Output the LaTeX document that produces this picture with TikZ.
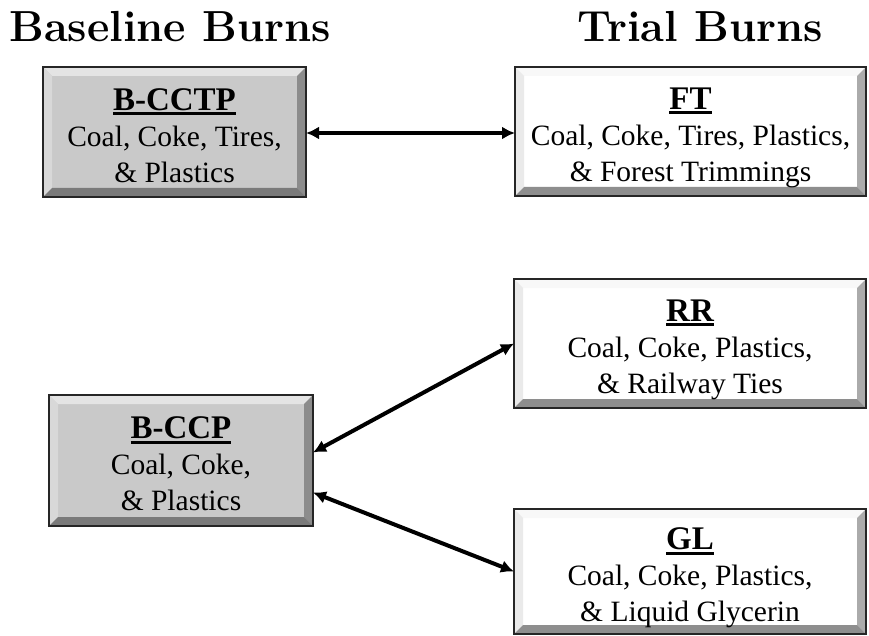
\documentclass[tikz,border=0pt]{standalone}
\usepackage{fontspec}
\setmainfont{Liberation Serif}
\newfontfamily\headfont{Latin Modern Roman}
\usetikzlibrary{arrows.meta}

\definecolor{grayface}{HTML}{C9C9C9}
\definecolor{graytop}{HTML}{E4E4E4}
\definecolor{grayleft}{HTML}{D8D8D8}
\definecolor{grayright}{HTML}{8C8C8C}
\definecolor{graybot}{HTML}{7A7A7A}
\definecolor{whitetop}{HTML}{F8F8F8}
\definecolor{whiteleft}{HTML}{EAEAEA}
\definecolor{whiteright}{HTML}{ABABAB}
\definecolor{whitebot}{HTML}{8E8E8E}

% bold heading with a thick underline
\newcommand\headline[1]{\setbox0=\hbox{\fontsize{33}{36}\selectfont\bfseries #1}\rlap{\rule[-5pt]{\wd0}{3pt}}\box0}

% bevel strips drawn inside a rectangular node: #1 top, #2 left, #3 right, #4 bottom
\newcommand\bevelstrips[4]{%
  \path (path picture bounding box.north west) coordinate (bvnw)
        (path picture bounding box.north east) coordinate (bvne)
        (path picture bounding box.south west) coordinate (bvsw)
        (path picture bounding box.south east) coordinate (bvse);
  \fill[#1] (bvnw) -- (bvne) -- ([shift={(-9pt,-9pt)}]bvne) -- ([shift={(9pt,-9pt)}]bvnw) -- cycle;
  \fill[#2] (bvnw) -- (bvsw) -- ([shift={(9pt,9pt)}]bvsw) -- ([shift={(9pt,-9pt)}]bvnw) -- cycle;
  \fill[#3] (bvne) -- (bvse) -- ([shift={(-9pt,9pt)}]bvse) -- ([shift={(-9pt,-9pt)}]bvne) -- cycle;
  \fill[#4] (bvsw) -- (bvse) -- ([shift={(-9pt,9pt)}]bvse) -- ([shift={(9pt,9pt)}]bvsw) -- cycle;
}

\tikzset{
  x=1pt, y=-1pt,
  burnbox/.style={rectangle, draw=black!85, line width=1.6pt, inner sep=0pt, outer sep=0pt},
  baselinebox/.style={burnbox, fill=grayface,
    path picture={\bevelstrips{graytop}{grayleft}{grayright}{graybot}}},
  trialbox/.style={burnbox, fill=white,
    path picture={\bevelstrips{whitetop}{whiteleft}{whiteright}{whitebot}}},
  boxtext/.style={anchor=north, align=center, inner sep=0pt,
    font=\fontsize{29.5}{36}\selectfont},
  title/.style={anchor=base west, inner sep=0pt,
    font=\headfont\bfseries\fontsize{43.5}{48}\selectfont},
  biarrow/.style={line width=4pt, {Latex[length=13pt,width=13pt]}-{Latex[length=13pt,width=13pt]}}
}

\begin{document}
\begin{tikzpicture}
\useasboundingbox (0,0) rectangle (869,636);

% column titles
\node[title] (ttlbase) at (9,42) {Baseline Burns};
\node[title] (ttltrial) at (577,42) {Trial Burns};

% baseline burns
\node[baselinebox, minimum width=263pt, minimum height=130pt] (bcctp) at (174.5,132) {};
\node[boxtext] (bcctptxt) at ([yshift=44pt]bcctp.center)
  {\headline{B-CCTP}\\Coal, Coke, Tires,\\\& Plastics};

\node[baselinebox, minimum width=264pt, minimum height=131pt] (bccp) at (181,460.5) {};
\node[boxtext] (bccptxt) at ([yshift=44pt]bccp.center)
  {\headline{B-CCP}\\Coal, Coke,\\\& Plastics};

% trial burns
\node[trialbox, minimum width=351pt, minimum height=129pt] (ft) at (690.5,131.5) {};
\node[boxtext] (fttxt) at ([yshift=44pt]ft.center)
  {\headline{FT}\\Coal, Coke, Tires, Plastics,\\\& Forest Trimmings};

\node[trialbox, minimum width=352pt, minimum height=129pt] (rr) at (690,343.5) {};
\node[boxtext] (rrtxt) at ([yshift=44pt]rr.center)
  {\headline{RR}\\Coal, Coke, Plastics,\\\& Railway Ties};

\node[trialbox, minimum width=352pt, minimum height=125pt] (gl) at (690,571.5) {};
\node[boxtext] (gltxt) at ([yshift=44pt]gl.center)
  {\headline{GL}\\Coal, Coke, Plastics,\\\& Liquid Glycerin};

% comparisons between baseline and trial burns
\draw[biarrow] ([yshift=-1pt]bcctp.east) -- ([yshift=-1pt]bcctp.east -| ft.west);
\draw[biarrow] ([yshift=8pt]bccp.east) -- (rr.west);
\draw[biarrow] ([yshift=-32pt]bccp.east) -- (gl.west);
\end{tikzpicture}
\end{document}
